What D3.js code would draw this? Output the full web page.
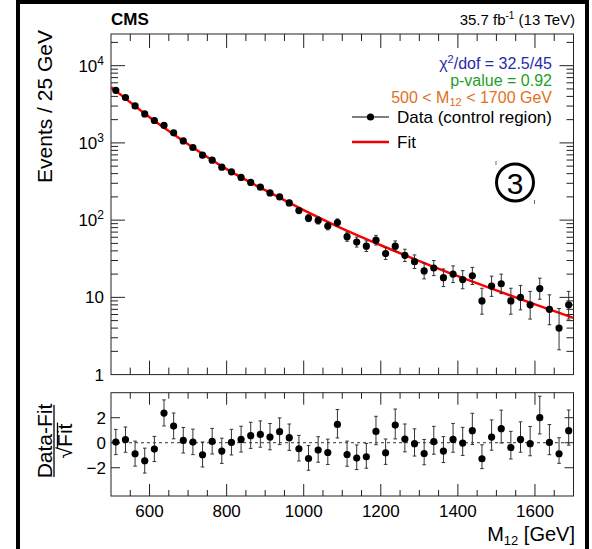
<!DOCTYPE html>
<html><head><meta charset="utf-8">
<script src="https://cdn.jsdelivr.net/npm/d3@7/dist/d3.min.js"></script>
<style>
body{margin:0;background:#fff}
text{font-family:"Liberation Sans",Arial,Helvetica,sans-serif;fill:#000}
</style>
</head><body>
<svg id="c" width="592" height="549"></svg>
<script>
// ---------- data ----------
const binCenters = [512.5,537.5,562.5,587.5,612.5,637.5,662.5,687.5,712.5,737.5,762.5,787.5,
  812.5,837.5,862.5,887.5,912.5,937.5,962.5,987.5,1012.5,1037.5,1062.5,1087.5,
  1112.5,1137.5,1162.5,1187.5,1212.5,1237.5,1262.5,1287.5,1312.5,1337.5,1362.5,1387.5,
  1412.5,1437.5,1462.5,1487.5,1512.5,1537.5,1562.5,1587.5,1612.5,1637.5,1662.5,1687.5];
const counts = [4800,3870,3010,2370,1950,1690,1350,1060,872,693,597,485,
  422,357,308,267,225,200,167,133,106,99,84,93,
  61,52,46,55,37,46,35,29,22,24,18,20,
  17,19,9,14,15,9,10,8,13,7,4,8];
const pulls = [0.05,0.24,-0.88,-1.44,-0.51,2.37,1.33,0.18,0.05,-0.96,0.10,-0.67,
  0.02,0.26,0.56,0.66,0.45,0.88,0.40,-0.48,-1.26,-0.59,-0.78,1.46,
  -0.94,-1.23,-1.12,0.90,-0.80,1.41,0.29,-0.08,-0.86,0.08,-0.67,0.26,
  -0.03,0.96,-1.28,0.45,1.12,-0.38,0.26,-0.08,2.00,0.02,-0.88,0.96];
const fitMass = [500,600,700,800,900,1000,1100,1200,1300,1400,1500,1600,1700];
const fitValues = [5300,2150,962,457,244,135,77.6,47.3,29.5,18.8,12.3,8.13,5.43];
const xTickLabels = [600,800,1000,1200,1400,1600];
const yTickLabels = [1,10,100,1000,10000];
const pullTickLabels = [-2,0,2];
const legendEntries = ["Data (control region)","Fit"];

// ---------- layout ----------
const svg = d3.select("#c");
const L=111, R=573.5, T1=34, B1=374.6, T2=392.7, B2=496;
const x = d3.scaleLinear().domain([500,1700]).range([L,R]);
const y = d3.scaleLog().domain([1, Math.pow(10,4.41)]).range([B1,T1]);
const yr = d3.scaleLinear().domain([-4.26,4]).range([B2,T2]);
const FS = 17;

// outer thick frame
svg.append("path").attr("d","M18,552V2H587V552").attr("fill","none")
  .attr("stroke","#000").attr("stroke-width",4);

// frames
[[T1,B1],[T2,B2]].forEach(([t,b])=>{
  svg.append("rect").attr("x",L).attr("y",t).attr("width",R-L).attr("height",b-t)
    .attr("fill","none").attr("stroke","#222").attr("stroke-width",1);
});

// x ticks (both panels, top and bottom)
const xt = d3.range(550,1700,50);
function xTicksFor(t,b,maj,min){
  xt.forEach(v=>{
    const len = (v%200===0)?maj:min;
    const px = x(v);
    svg.append("line").attr("x1",px).attr("x2",px).attr("y1",b).attr("y2",b-len).attr("stroke","#222");
    svg.append("line").attr("x1",px).attr("x2",px).attr("y1",t).attr("y2",t+len).attr("stroke","#222");
  });
}
xTicksFor(T1,B1,14,7);
xTicksFor(T2,B2,12,6);

// y ticks main (log)
const ymax = y.domain()[1];
for(let d=0; d<=4; d++){
  for(let k=1;k<=9;k++){
    const v = k*Math.pow(10,d);
    if(v>=ymax || v===1) continue;
    const len = k===1?14:7;
    const py = y(v);
    svg.append("line").attr("x1",L).attr("x2",L+len).attr("y1",py).attr("y2",py).attr("stroke","#222");
    svg.append("line").attr("x1",R).attr("x2",R-len).attr("y1",py).attr("y2",py).attr("stroke","#222");
  }
}
// y labels main
yTickLabels.forEach(v=>{
  const e = Math.round(Math.log10(v));
  const t = svg.append("text").attr("x",104).attr("y",y(v)+6).attr("text-anchor","end").attr("font-size",FS);
  if(e<=1){ t.text(String(v)); }
  else { t.append("tspan").text("10"); t.append("tspan").attr("dy",-7).attr("font-size",12).text(String(e)); }
});

// ratio y ticks + labels
pullTickLabels.forEach(v=>{
  const py = yr(v);
  svg.append("line").attr("x1",L).attr("x2",L+9).attr("y1",py).attr("y2",py).attr("stroke","#222");
  svg.append("line").attr("x1",R).attr("x2",R-9).attr("y1",py).attr("y2",py).attr("stroke","#222");
  svg.append("text").attr("x",106).attr("y",py+6).attr("text-anchor","end").attr("font-size",FS)
    .text(v<0?"\u2212"+Math.abs(v):String(v));
});
// zero dashed line
svg.append("line").attr("x1",L).attr("x2",R).attr("y1",yr(0)).attr("y2",yr(0))
  .attr("stroke","#333").attr("stroke-dasharray","3,3");

// x labels
xTickLabels.forEach(v=>{
  svg.append("text").attr("x",x(v)).attr("y",517).attr("text-anchor","middle").attr("font-size",FS).text(v);
});
// x title
const xtl = svg.append("text").attr("x",575).attr("y",541).attr("text-anchor","end").attr("font-size",20);
xtl.append("tspan").text("M");
xtl.append("tspan").attr("font-size",13).attr("dy",4).text("12");
xtl.append("tspan").attr("dy",-4).text(" [GeV]");

// y title main
svg.append("text").attr("transform","translate(52,30) rotate(-90)").attr("text-anchor","end")
  .attr("font-size",21).text("Events / 25 GeV");

// ratio title
const rg = svg.append("g").attr("transform","translate(54,441) rotate(-90)");
rg.append("text").attr("x",0).attr("y",-2.5).attr("text-anchor","middle").attr("font-size",21).text("Data-Fit");
rg.append("line").attr("x1",-36).attr("x2",36).attr("y1",0).attr("y2",0).attr("stroke","#000").attr("stroke-width",1.3);
const sq = rg.append("text").attr("y",18).attr("font-size",21).text("\u221A");
const fi = rg.append("text").attr("y",18).attr("font-size",21).text("Fit");
const w1 = sq.node().getComputedTextLength(), w2 = fi.node().getComputedTextLength();
const x0 = -(w1+w2)/2;
sq.attr("x",x0); fi.attr("x",x0+w1);
rg.append("line").attr("x1",x0+w1-1).attr("x2",x0+w1+w2+1).attr("y1",3.5).attr("y2",3.5).attr("stroke","#000").attr("stroke-width",1.3);

// CMS & lumi
svg.append("text").attr("x",111).attr("y",25).attr("font-size",17).attr("font-weight","bold").text("CMS");
const lumi = svg.append("text").attr("x",575).attr("y",25).attr("text-anchor","end").attr("font-size",15);
lumi.append("tspan").text("35.7 fb");
lumi.append("tspan").attr("dy",-6).attr("font-size",10).text("-1");
lumi.append("tspan").attr("dy",6).text(" (13 TeV)");

// info text lines
const IFS = 16;
const l1 = svg.append("text").attr("x",552).attr("y",69).attr("text-anchor","end").attr("font-size",IFS).style("fill","#2a2aa8");
l1.append("tspan").text("χ");
l1.append("tspan").attr("dy",-6).attr("font-size",11).text("2");
l1.append("tspan").attr("dy",6).text("/dof = 32.5/45");
svg.append("text").attr("x",552).attr("y",86).attr("text-anchor","end").attr("font-size",IFS)
  .style("fill","#1f9e1f").text("p-value = 0.92");
const l3 = svg.append("text").attr("x",552).attr("y",103).attr("text-anchor","end").attr("font-size",IFS).style("fill","#e0701c");
l3.append("tspan").text("500 < M");
l3.append("tspan").attr("dy",3).attr("font-size",11).text("12");
l3.append("tspan").attr("dy",-3).text(" < 1700 GeV");

// legend
svg.append("line").attr("x1",352).attr("x2",389).attr("y1",117).attr("y2",117).attr("stroke","#000").attr("stroke-width",1.2);
svg.append("circle").attr("cx",370.5).attr("cy",117).attr("r",3.6).attr("fill","#000");
svg.append("text").attr("x",397).attr("y",123).attr("font-size",FS).text(legendEntries[0]);
svg.append("line").attr("x1",352).attr("x2",389).attr("y1",142).attr("y2",142).attr("stroke","#e00").attr("stroke-width",2.5);
svg.append("text").attr("x",397).attr("y",148).attr("font-size",FS).text(legendEntries[1]);

// circled 3 annotation
svg.append("circle").attr("cx",515).attr("cy",182.5).attr("r",18.5).attr("fill","none").attr("stroke","#000").attr("stroke-width",3);
svg.append("text").attr("x",515).attr("y",193.5).attr("text-anchor","middle").attr("font-size",30).text("3");
svg.append("line").attr("x1",496).attr("x2",496).attr("y1",161).attr("y2",165).attr("stroke","#666");
svg.append("line").attr("x1",534.5).attr("x2",534.5).attr("y1",200).attr("y2",204).attr("stroke","#666");

// clip
svg.append("clipPath").attr("id","clipMain").append("rect").attr("x",L).attr("y",T1).attr("width",R-L).attr("height",B1-T1);

// fit curve
const fitPts = fitMass.map((m,i)=>[m,fitValues[i]]);
svg.append("path").datum(fitPts).attr("clip-path","url(#clipMain)")
  .attr("d", d3.line().x(d=>x(d[0])).y(d=>y(d[1])).curve(d3.curveMonotoneX))
  .attr("fill","none").attr("stroke","#f00").attr("stroke-width",2.5);

// Poisson intervals (Gehrels approximation)
const lo = n => n*Math.pow(1-1/(9*n)-1/(3*Math.sqrt(n)),3);
const hi = n => n+1+Math.sqrt(n+0.75);

const data = binCenters.map((m,i)=>({m, n:counts[i], p:pulls[i]}));
const cap = 1.8;
const gM = svg.append("g");
data.forEach(d=>{
  const px = x(d.m), y1 = y(hi(d.n)), y2 = y(lo(d.n));
  gM.append("line").attr("x1",px).attr("x2",px).attr("y1",y1).attr("y2",y2).attr("stroke","#333").attr("stroke-width",1);
  gM.append("line").attr("x1",px-cap).attr("x2",px+cap).attr("y1",y1).attr("y2",y1).attr("stroke","#333");
  gM.append("line").attr("x1",px-cap).attr("x2",px+cap).attr("y1",y2).attr("y2",y2).attr("stroke","#333");
  gM.append("circle").attr("cx",px).attr("cy",y(d.n)).attr("r",3.6).attr("fill","#000");
});

// ratio panel points
const gR = svg.append("g");
data.forEach(d=>{
  const s = (-d.p + Math.sqrt(d.p*d.p+4*d.n))/2; // sqrt(Fit) from data & pull
  const px = x(d.m);
  const up = d.p + (hi(d.n)-d.n)/s, dn = d.p - (d.n-lo(d.n))/s;
  const y1 = yr(up), y2 = yr(dn);
  gR.append("line").attr("x1",px).attr("x2",px).attr("y1",y1).attr("y2",y2).attr("stroke","#333");
  gR.append("line").attr("x1",px-cap).attr("x2",px+cap).attr("y1",y1).attr("y2",y1).attr("stroke","#333");
  gR.append("line").attr("x1",px-cap).attr("x2",px+cap).attr("y1",y2).attr("y2",y2).attr("stroke","#333");
  gR.append("circle").attr("cx",px).attr("cy",yr(d.p)).attr("r",3.6).attr("fill","#000");
});
</script>
</body></html>
